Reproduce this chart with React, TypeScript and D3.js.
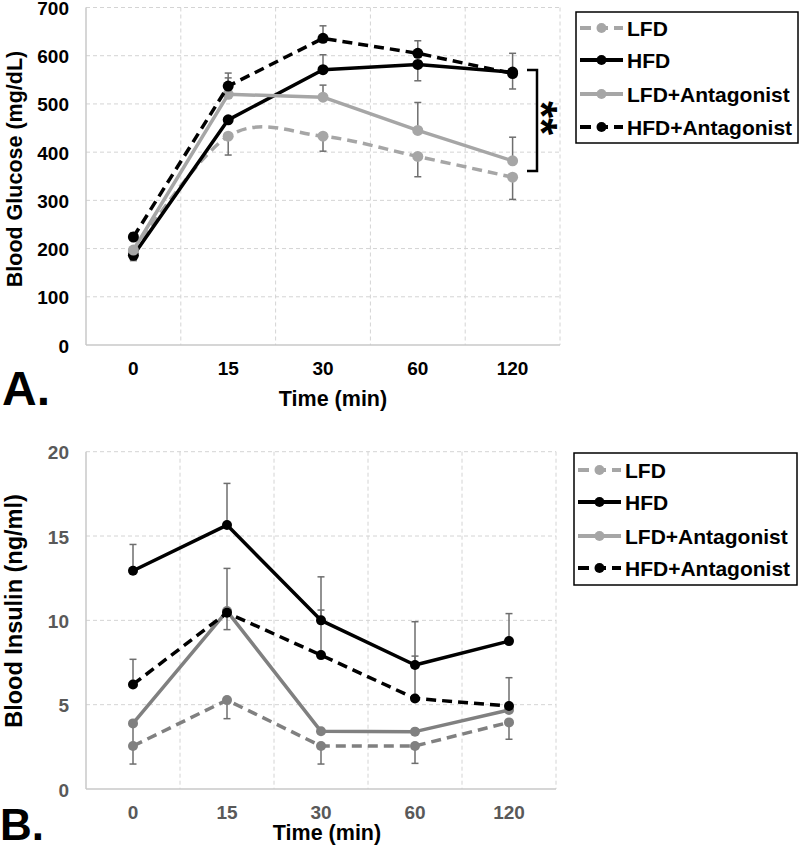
import React from "react";
import * as d3 from "d3";

const categories = ["0", "15", "30", "60", "120"];
const seriesNames = ["LFD", "HFD", "LFD+Antagonist", "HFD+Antagonist"];

// Panel A: Blood glucose (mg/dL)
const glucoseLFD = [193, 433, 433, 391, 348];
const glucoseHFD = [186, 467, 571, 582, 566];
const glucoseLFDAnt = [197, 520, 514, 445, 382];
const glucoseHFDAnt = [224, 537, 636, 605, 563];
const glucoseUpLFD = [0, 0, 0, 0, 0];
const glucoseDownLFD = [0, 39, 31, 42, 46];
const glucoseUpHFD = [0, 0, 31, 0, 0];
const glucoseDownHFD = [11, 0, 0, 34, 35];
const glucoseUpLFDAnt = [0, 34, 25, 58, 49];
const glucoseDownLFDAnt = [0, 0, 0, 0, 0];
const glucoseUpHFDAnt = [9, 27, 26, 26, 42];
const glucoseDownHFDAnt = [0, 0, 0, 0, 0];
const glucoseTicks = [0, 100, 200, 300, 400, 500, 600, 700];

// Panel B: Blood insulin (ng/ml)
const insulinLFD = [2.55, 5.27, 2.55, 2.55, 3.95];
const insulinHFD = [12.94, 15.65, 10.0, 7.35, 8.77];
const insulinLFDAnt = [3.89, 10.55, 3.42, 3.4, 4.68];
const insulinHFDAnt = [6.2, 10.45, 7.94, 5.37, 4.92];
const insulinUpLFD = [0, 0, 0, 0, 0];
const insulinDownLFD = [1.07, 1.1, 1.07, 1.03, 1.0];
const insulinUpHFD = [1.56, 2.47, 2.58, 2.57, 1.63];
const insulinDownHFD = [0, 0, 0, 0, 0];
const insulinUpLFDAnt = [0, 2.53, 0, 0, 0];
const insulinDownLFDAnt = [1.2, 0, 0, 0, 0];
const insulinUpHFDAnt = [1.49, 0, 2.67, 2.51, 1.68];
const insulinDownHFDAnt = [0, 1.0, 0, 0, 0];
const insulinTicks = [0, 5, 10, 15, 20];

const FONT = "'Liberation Sans', Arial, Helvetica, sans-serif";

type Series = {
  name: string;
  values: number[];
  up: number[];
  down: number[];
  color: string;
  legendColor: string;
  dash: string | null;
  smooth: boolean;
};

type PanelCfg = {
  left: number;
  right: number;
  top: number;
  bottom: number;
  max: number;
  ticks: number[];
  tickColor: string;
  yTitle: string;
  yTitleSize: number;
  yTitleY: number;
  xTitleX: number;
  xTitleY: number;
  xTickY: number;
  letter: string;
  letterSize: number;
  letterX: number;
  letterY: number;
  legendX: number;
  legendY: number;
  legendW: number;
  legendH: number;
  legendRows: number[];
  radius: number;
  series: Series[];
  bracket: boolean;
};

function Panel({ cfg }: { cfg: PanelCfg }) {
  const x = d3.scaleBand().domain(categories).range([cfg.left, cfg.right]).paddingInner(0).paddingOuter(0);
  const y = d3.scaleLinear().domain([0, cfg.max]).range([cfg.bottom, cfg.top]);
  const cx = (c: string) => (x(c) as number) + x.bandwidth() / 2;
  const vLines = categories.slice(1).map((c) => x(c) as number).concat([cfg.right]);

  const lineStraight = d3.line<[number, number]>().x((d) => d[0]).y((d) => d[1]);
  const lineSmooth = d3
    .line<[number, number]>()
    .x((d) => d[0])
    .y((d) => d[1])
    .curve(d3.curveCardinal.tension(0));

  return (
    <g>
      {/* gridlines */}
      {cfg.ticks
        .filter((t) => t !== 0)
        .map((t) => (
          <line key={"h" + t} x1={cfg.left} x2={cfg.right} y1={y(t)} y2={y(t)} stroke="#d4d4d4" strokeWidth={1} strokeDasharray="4,3" />
        ))}
      {vLines.map((vx, i) => (
        <line key={"v" + i} x1={vx} x2={vx} y1={cfg.top} y2={cfg.bottom} stroke="#d4d4d4" strokeWidth={1} strokeDasharray="4,3" />
      ))}
      {/* axes */}
      <line x1={cfg.left} x2={cfg.left} y1={cfg.top} y2={cfg.bottom} stroke="#c8c8c8" strokeWidth={1.5} />
      <line x1={cfg.left} x2={cfg.right} y1={cfg.bottom} y2={cfg.bottom} stroke="#c8c8c8" strokeWidth={1.5} />
      {/* y tick labels */}
      {cfg.ticks.map((t) => (
        <text key={"yt" + t} x={69} y={y(t) + 7.5} textAnchor="end" fontFamily={FONT} fontWeight="bold" fontSize={19} fill={cfg.tickColor}>
          {t}
        </text>
      ))}
      {/* x tick labels */}
      {categories.map((c) => (
        <text key={"xt" + c} x={cx(c)} y={cfg.xTickY} textAnchor="middle" fontFamily={FONT} fontWeight="bold" fontSize={19} fill={cfg.tickColor}>
          {c}
        </text>
      ))}
      {/* axis titles */}
      <text x={cfg.xTitleX} y={cfg.xTitleY} textAnchor="middle" fontFamily={FONT} fontWeight="bold" fontSize={21.5} fill="#000">
        Time (min)
      </text>
      <text
        transform={`translate(21.5,${cfg.yTitleY}) rotate(-90)`}
        textAnchor="middle"
        fontFamily={FONT}
        fontWeight="bold"
        fontSize={cfg.yTitleSize}
        fill="#000"
      >
        {cfg.yTitle}
      </text>
      <text x={cfg.letterX} y={cfg.letterY} fontFamily={FONT} fontWeight="bold" fontSize={cfg.letterSize} fill="#000">
        {cfg.letter}
      </text>
      {/* error bars */}
      {cfg.series.map((s) =>
        categories.map((c, i) => {
          const px = cx(c);
          const items = [] as React.ReactNode[];
          if (s.up[i] > 0) {
            const ye = y(s.values[i] + s.up[i]);
            items.push(
              <g key={s.name + c + "u"}>
                <line x1={px} x2={px} y1={y(s.values[i])} y2={ye} stroke="#6e6e6e" strokeWidth={1.5} />
                <line x1={px - 3.5} x2={px + 3.5} y1={ye} y2={ye} stroke="#6e6e6e" strokeWidth={1.5} />
              </g>
            );
          }
          if (s.down[i] > 0) {
            const ye = y(s.values[i] - s.down[i]);
            items.push(
              <g key={s.name + c + "d"}>
                <line x1={px} x2={px} y1={y(s.values[i])} y2={ye} stroke="#6e6e6e" strokeWidth={1.5} />
                <line x1={px - 3.5} x2={px + 3.5} y1={ye} y2={ye} stroke="#6e6e6e" strokeWidth={1.5} />
              </g>
            );
          }
          return items;
        })
      )}
      {/* lines and markers */}
      {cfg.series.map((s) => {
        const pts: [number, number][] = categories.map((c, i) => [cx(c), y(s.values[i])]);
        const path = (s.smooth ? lineSmooth : lineStraight)(pts) || "";
        return (
          <g key={s.name}>
            <path d={path} fill="none" stroke={s.color} strokeWidth={3.5} strokeDasharray={s.dash || undefined} strokeLinejoin="round" />
            {pts.map((p, i) => (
              <circle key={i} cx={p[0]} cy={p[1]} r={cfg.radius} fill={s.color} />
            ))}
          </g>
        );
      })}
      {/* significance bracket */}
      {cfg.bracket && (
        <g>
          <path d={`M527,${y(566) - 2} H537 V171 H527`} fill="none" stroke="#000" strokeWidth={2.5} />
          <text
            transform="translate(526,118) rotate(90)"
            textAnchor="middle"
            fontFamily={FONT}
            fontWeight="bold"
            fontSize={44}
            fill="#000"
          >
            **
          </text>
        </g>
      )}
      {/* legend */}
      <rect x={cfg.legendX} y={cfg.legendY} width={cfg.legendW} height={cfg.legendH} fill="#fff" stroke="#000" strokeWidth={1.5} />
      {cfg.series.map((s, i) => {
        const ly = cfg.legendRows[i];
        const x0 = cfg.legendX + 4;
        const x1 = cfg.legendX + 47;
        return (
          <g key={"lg" + s.name}>
            <line x1={x0} x2={x1} y1={ly} y2={ly} stroke={s.legendColor} strokeWidth={4} strokeDasharray={s.dash ? "11,6" : undefined} />
            <circle cx={(x0 + x1) / 2} cy={ly} r={5} fill={s.legendColor} />
            <text x={cfg.legendX + 51} y={ly + 7.5} fontFamily={FONT} fontWeight="bold" fontSize={21} fill="#000">
              {s.name}
            </text>
          </g>
        );
      })}
    </g>
  );
}

const dash = "10,6";

const panelA: PanelCfg = {
  left: 86,
  right: 560,
  top: 7.5,
  bottom: 345,
  max: 700,
  ticks: glucoseTicks,
  tickColor: "#000",
  yTitle: "Blood Glucose (mg/dL)",
  yTitleSize: 21.5,
  yTitleY: 169,
  xTitleX: 333,
  xTitleY: 405.5,
  xTickY: 375,
  letter: "A.",
  letterSize: 48,
  letterX: 2,
  letterY: 405,
  legendX: 576,
  legendY: 12,
  legendW: 222,
  legendH: 131,
  legendRows: [28, 60, 94, 127],
  radius: 5.5,
  bracket: true,
  series: [
    { name: seriesNames[0], values: glucoseLFD, up: glucoseUpLFD, down: glucoseDownLFD, color: "#a6a6a6", legendColor: "#a6a6a6", dash, smooth: true },
    { name: seriesNames[1], values: glucoseHFD, up: glucoseUpHFD, down: glucoseDownHFD, color: "#000", legendColor: "#000", dash: null, smooth: false },
    { name: seriesNames[2], values: glucoseLFDAnt, up: glucoseUpLFDAnt, down: glucoseDownLFDAnt, color: "#a6a6a6", legendColor: "#a6a6a6", dash: null, smooth: false },
    { name: seriesNames[3], values: glucoseHFDAnt, up: glucoseUpHFDAnt, down: glucoseDownHFDAnt, color: "#000", legendColor: "#000", dash, smooth: false },
  ],
};

const panelB: PanelCfg = {
  left: 86,
  right: 556,
  top: 451.7,
  bottom: 789,
  max: 20,
  ticks: insulinTicks,
  tickColor: "#595959",
  yTitle: "Blood Insulin (ng/ml)",
  yTitleSize: 23.5,
  yTitleY: 611,
  xTitleX: 327,
  xTitleY: 839.5,
  xTickY: 818.5,
  letter: "B.",
  letterSize: 44,
  letterX: 0,
  letterY: 840,
  legendX: 574,
  legendY: 453,
  legendW: 223,
  legendH: 132,
  legendRows: [470, 502, 536, 568],
  radius: 5,
  bracket: false,
  series: [
    { name: seriesNames[0], values: insulinLFD, up: insulinUpLFD, down: insulinDownLFD, color: "#808080", legendColor: "#a6a6a6", dash, smooth: false },
    { name: seriesNames[1], values: insulinHFD, up: insulinUpHFD, down: insulinDownHFD, color: "#000", legendColor: "#000", dash: null, smooth: false },
    { name: seriesNames[2], values: insulinLFDAnt, up: insulinUpLFDAnt, down: insulinDownLFDAnt, color: "#808080", legendColor: "#a6a6a6", dash: null, smooth: false },
    { name: seriesNames[3], values: insulinHFDAnt, up: insulinUpHFDAnt, down: insulinDownHFDAnt, color: "#000", legendColor: "#000", dash, smooth: false },
  ],
};

export default function App() {
  return (
    <svg width={800} height={854} style={{ position: "absolute", left: 0, top: 0, display: "block", background: "#fff" }}>
      <rect x={0} y={0} width={800} height={854} fill="#fff" />
      <Panel cfg={panelA} />
      <Panel cfg={panelB} />
    </svg>
  );
}
